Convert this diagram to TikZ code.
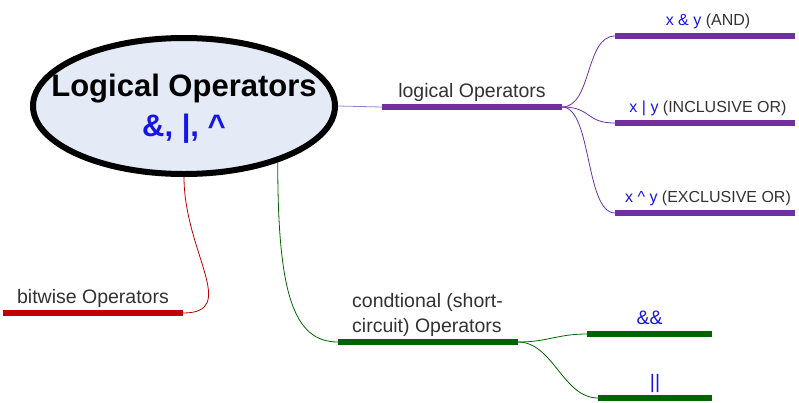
\documentclass[tikz,border=0pt]{standalone}
\usepackage{fontspec}
\setmainfont{Liberation Sans}
\usetikzlibrary{shapes.geometric,backgrounds}
\definecolor{mmpurple}{RGB}{112,48,160}
\definecolor{mmlight}{RGB}{160,128,196}
\definecolor{mmgreen}{RGB}{0,100,0}
\definecolor{mmred}{RGB}{192,0,0}
\definecolor{mmblue}{RGB}{20,20,235}
\definecolor{mmfill}{RGB}{228,234,246}
\definecolor{mmtext}{RGB}{50,50,50}

\begin{document}
\begin{tikzpicture}[x=1pt,y=-1pt,
  bar/.style={line width=5.5pt},
  link/.style={line width=0.8pt},
  topic/.style={anchor=base,yshift=10pt,inner sep=0pt,font=\fontsize{19.5}{25}\selectfont},
  leaf/.style={anchor=base,yshift=11pt,inner sep=0pt,font=\fontsize{16}{19}\selectfont},
  bigtext/.style={anchor=base,inner sep=0pt,font=\bfseries\fontsize{31}{36}\selectfont}]
\useasboundingbox (0,0) rectangle (799,402);
\node[ellipse,draw,line width=6pt,fill=mmfill,minimum width=302pt,minimum height=136pt,inner sep=0pt] (root) at (184,106) {};
\node[bigtext] (roottitle) at (184,96) {Logical Operators};
\node[bigtext,text=mmblue] (rootops) at (184,136) {\&, |, \textasciicircum};
% bar ends
\coordinate (lo-l) at (382,107); \coordinate (lo-r) at (562,107);
\coordinate (and-l) at (615,36); \coordinate (and-r) at (795,36);
\coordinate (ior-l) at (615,123); \coordinate (ior-r) at (795,123);
\coordinate (xor-l) at (615,213); \coordinate (xor-r) at (795,213);
\coordinate (bw-l) at (3,313); \coordinate (bw-r) at (183,313);
\coordinate (cd-l) at (338,342); \coordinate (cd-r) at (518,342);
\coordinate (cand-l) at (587,334); \coordinate (cand-r) at (712,334);
\coordinate (cor-l) at (598,398); \coordinate (cor-r) at (712,398);
\draw[mmpurple,bar] (lo-l) -- (lo-r) node[midway,topic,text=mmtext] (lo) {logical Operators};
\draw[mmpurple,bar] (and-l) -- (and-r) node[midway,leaf,text=mmtext,xshift=3pt] (and) {\textcolor{mmblue}{x \& y} (AND)};
\draw[mmpurple,bar] (ior-l) -- (ior-r) node[midway,leaf,text=mmtext,xshift=3pt] (ior) {\textcolor{mmblue}{x | y} (INCLUSIVE OR)};
\draw[mmpurple,bar] (xor-l) -- (xor-r) node[midway,leaf,text=mmtext,xshift=3pt] (xor) {\textcolor{mmblue}{x \textasciicircum{} y} (EXCLUSIVE OR)};
\draw[mmred,bar] (bw-l) -- (bw-r) node[midway,topic,text=mmtext] (bw) {bitwise Operators};
\draw[mmgreen,bar] (cd-l) -- (cd-r);
\node[anchor=south west,inner sep=0pt,text=mmtext,font=\fontsize{19.5}{25}\selectfont,align=left] (cd) at (352,337) {condtional (short-\\circuit) Operators};
\draw[mmgreen,bar] (cand-l) -- (cand-r) node[midway,topic,text=mmblue] (cand) {\&\&};
\draw[mmgreen,bar] (cor-l) -- (cor-r) node[midway,topic,text=mmblue] (cor) {||};
\begin{scope}[on background layer]
\draw[mmlight,link] (root.east) -- (lo-l);
\draw[mmpurple,link] (lo-r) .. controls +(30,0) and +(-30,0) .. (and-l);
\draw[mmpurple,link] (lo-r) .. controls +(30,0) and +(-30,0) .. (ior-l);
\draw[mmpurple,link] (lo-r) .. controls +(30,0) and +(-30,0) .. (xor-l);
\draw[mmred,link] (root.south) .. controls +(0,75) and +(57,0) .. (bw-r);
\draw[mmgreen,link] (root.-31) .. controls +(0,130) and +(-45,0) .. (cd-l);
\draw[mmgreen,link] (cd-r) .. controls +(30,0) and +(-30,0) .. (cand-l);
\draw[mmgreen,link] (cd-r) .. controls +(35,0) and +(-35,0) .. (cor-l);
\end{scope}
\end{tikzpicture}
\end{document}
